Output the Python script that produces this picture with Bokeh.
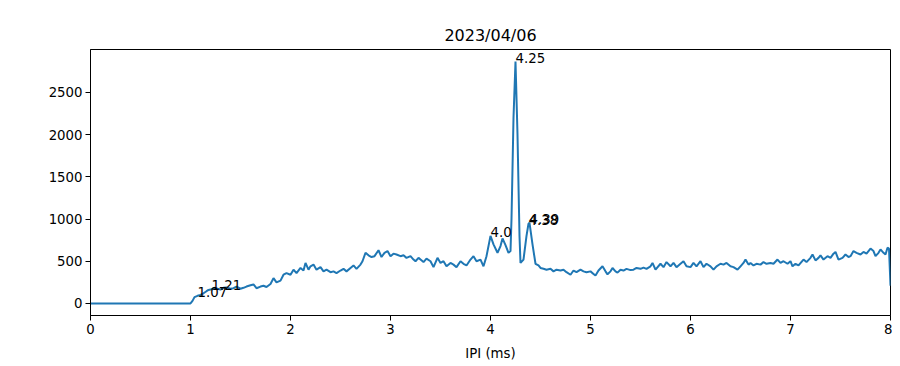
from bokeh.plotting import figure
from bokeh.models import ColumnDataSource, Range1d, FixedTicker
from bokeh.core.properties import value
from bokeh.embed import file_html
from bokeh.resources import INLINE

title = "2023/04/06"
x_label = "IPI (ms)"

ipi = [0.0, 0.5, 1.0, 1.02, 1.04, 1.07, 1.1, 1.13, 1.16, 1.18, 1.21, 1.24, 1.27, 1.3, 1.33, 1.36,
       1.4, 1.43, 1.46, 1.5, 1.53, 1.56, 1.6, 1.63, 1.66, 1.7, 1.73, 1.76, 1.8, 1.83, 1.86, 1.9,
       1.93, 1.96, 2.0, 2.03, 2.06, 2.1, 2.13, 2.15, 2.18, 2.2, 2.23, 2.26, 2.3, 2.33, 2.36, 2.4,
       2.43, 2.46, 2.5, 2.53, 2.56, 2.6, 2.63, 2.66, 2.7, 2.72, 2.75, 2.78, 2.81, 2.84, 2.88, 2.91,
       2.94, 2.97, 3.0, 3.03, 3.06, 3.1, 3.13, 3.16, 3.2, 3.23, 3.25, 3.28, 3.3, 3.33, 3.36, 3.4,
       3.43, 3.47, 3.5, 3.53, 3.56, 3.6, 3.63, 3.66, 3.7, 3.73, 3.76, 3.8, 3.83, 3.86, 3.9, 3.93,
       3.96, 4.0, 4.03, 4.07, 4.1, 4.12, 4.15, 4.18, 4.2, 4.21, 4.23, 4.25, 4.27, 4.29, 4.3, 4.33,
       4.36, 4.38, 4.39, 4.42, 4.45, 4.48, 4.5, 4.53, 4.56, 4.6, 4.63, 4.66, 4.7, 4.73, 4.76, 4.8,
       4.83, 4.86, 4.9, 4.93, 4.96, 5.0, 5.03, 5.05, 5.08, 5.12, 5.15, 5.17, 5.2, 5.22, 5.25, 5.27,
       5.3, 5.33, 5.36, 5.4, 5.43, 5.46, 5.5, 5.53, 5.56, 5.6, 5.62, 5.65, 5.7, 5.73, 5.76, 5.8,
       5.83, 5.86, 5.9, 5.93, 5.96, 6.0, 6.03, 6.06, 6.1, 6.13, 6.16, 6.2, 6.23, 6.26, 6.3, 6.33,
       6.36, 6.4, 6.43, 6.47, 6.5, 6.53, 6.55, 6.58, 6.6, 6.63, 6.66, 6.7, 6.73, 6.76, 6.8, 6.83,
       6.87, 6.9, 6.93, 6.97, 7.0, 7.02, 7.05, 7.08, 7.13, 7.16, 7.2, 7.22, 7.25, 7.28, 7.3, 7.33,
       7.37, 7.4, 7.43, 7.45, 7.48, 7.52, 7.55, 7.58, 7.6, 7.63, 7.66, 7.7, 7.73, 7.76, 7.8, 7.83,
       7.85, 7.88, 7.9, 7.93, 7.95, 7.97, 7.985, 8.0]

counts = [0, 0, 0, 30, 75, 90, 100, 120, 145, 160, 168, 185, 175, 165, 185, 190,
          175, 180, 200, 175, 185, 200, 215, 225, 180, 200, 210, 195, 230, 300, 250, 270,
          340, 360, 340, 400, 360, 420, 390, 480, 400, 440, 460, 400, 430, 380, 400, 370,
          380, 360, 390, 410, 380, 420, 450, 410, 460, 500, 600, 570, 550, 560, 630, 550,
          600, 620, 560, 590, 580, 560, 570, 540, 560, 520, 500, 540, 520, 490, 530, 500,
          430, 540, 480, 500, 440, 480, 460, 430, 500, 470, 450, 520, 560, 500, 520, 440,
          560, 800, 700, 600, 680, 770, 690, 600, 620, 1000, 2200, 2866, 2000, 800, 480, 520,
          800, 945, 955, 700, 470, 450, 420, 410, 400, 410, 380, 400, 390, 400, 370, 340,
          390, 370, 400, 380, 370, 380, 350, 330, 390, 440, 380, 345, 380, 420, 380, 365,
          400, 390, 410, 395, 400, 420, 410, 425, 410, 440, 480, 400, 470, 430, 490, 440,
          480, 430, 470, 500, 440, 430, 480, 440, 500, 430, 470, 440, 400, 440, 470, 460,
          480, 440, 430, 400, 440, 480, 520, 460, 480, 450, 470, 460, 490, 470, 480, 470,
          520, 480, 500, 470, 500, 440, 470, 450, 520, 490, 540, 580, 510, 540, 570, 520,
          560, 540, 590, 610, 520, 540, 580, 550, 560, 620, 600, 580, 610, 590, 650, 620,
          560, 600, 640, 600, 580, 660, 650, 210]

peak_ipi = [1.07, 1.21, 4.0, 4.25, 4.38, 4.39]
peak_labels = ["1.07", "1.21", "4.0", "4.25", "4.38", "4.39"]
peak_counts = [counts[ipi.index(v)] for v in peak_ipi]

x_ticks = [0, 1, 2, 3, 4, 5, 6, 7, 8]
y_ticks = [0, 500, 1000, 1500, 2000, 2500]

FONT = "DejaVu Sans"

p = figure(output_backend="svg", toolbar_location=None,
           frame_width=800, frame_height=266,
           min_border_left=90, min_border_right=2, min_border_top=49, min_border_bottom=48,
           x_range=Range1d(0, 8), y_range=Range1d(-143, 3009),
           title=title)

p.title.align = "center"
p.title.text_font = FONT
p.title.text_font_size = "16px"
p.title.text_font_style = "normal"
p.title.text_color = "black"

p.line(ipi, counts, line_color="#1f77b4", line_width=2)

src = ColumnDataSource(dict(x=peak_ipi, y=peak_counts, t=peak_labels))
p.text(x="x", y="y", text="t", source=src, text_font=value(FONT), text_font_size="13.3px",
       text_color="black", text_align="left", text_baseline="alphabetic", y_offset=-4)

p.grid.visible = False
p.outline_line_color = "black"
p.outline_line_width = 1
p.background_fill_color = "white"
p.border_fill_color = "white"

for ax in (p.xaxis[0], p.yaxis[0]):
    ax.axis_line_color = "black"
    ax.major_tick_line_color = "black"
    ax.major_tick_out = 5
    ax.major_tick_in = 0
    ax.minor_tick_line_color = None
    ax.major_label_text_font = FONT
    ax.major_label_text_font_size = "13.3px"
    ax.major_label_text_color = "black"
    ax.major_label_standoff = 3

p.xaxis.ticker = FixedTicker(ticks=x_ticks)
p.yaxis.ticker = FixedTicker(ticks=y_ticks)
p.xaxis.axis_label = x_label
p.xaxis.axis_label_text_font = FONT
p.xaxis.axis_label_text_font_size = "13.3px"
p.xaxis.axis_label_text_font_style = "normal"
p.xaxis.axis_label_text_color = "black"
p.xaxis.axis_label_standoff = 9

open("out.html", "w").write(file_html(p, INLINE))
